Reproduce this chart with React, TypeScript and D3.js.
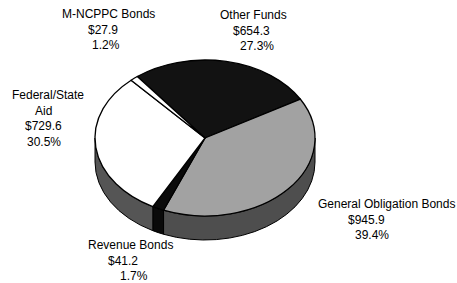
import * as d3 from 'd3';
import { useRef, useEffect } from 'react';

const categories = ['Other Funds', 'General Obligation Bonds', 'Revenue Bonds', 'Federal/State Aid', 'M-NCPPC Bonds'];
const amounts = [654.3, 945.9, 41.2, 729.6, 27.9];
const amountLabels = ['$654.3', '$945.9', '$41.2', '$729.6', '$27.9'];
const percentLabels = ['27.3%', '39.4%', '1.7%', '30.5%', '1.2%'];

const topFill = ['#121212', '#a2a2a2', '#0a0a0a', '#ffffff', '#ffffff'];
const sideFill = ['#1a1a1a', '#4e4e4e', '#0a0a0a', '#555555', '#ffffff'];

// label layout: x per line (name lines, then amount, then percent), first baseline y
const labelLayout = {
  'Other Funds': { lines: ['Other Funds'], x: [220, 233, 240], y: 19 },
  'General Obligation Bonds': { lines: ['General Obligation Bonds'], x: [318, 348, 355], y: 208 },
  'Revenue Bonds': { lines: ['Revenue Bonds'], x: [88, 108, 120], y: 249 },
  'Federal/State Aid': { lines: ['Federal/State', 'Aid'], x: [12, 35, 25, 27], y: 99 },
  'M-NCPPC Bonds': { lines: ['M-NCPPC Bonds'], x: [62, 88, 92], y: 18 },
};

const W = 457, H = 283;
const cx = 205, cy = 138, rx = 110, ry = 78, depth = 24;

export default function App() {
  const svgRef = useRef(null);

  useEffect(() => {
    const svg = d3.select(svgRef.current);
    svg.selectAll('*').remove();

    const data = categories.map((c, i) => ({ name: c, value: amounts[i], i }));
    const startA = -38 * Math.PI / 180;
    const pie = d3.pie().value(d => d.value).sort(null).startAngle(startA).endAngle(startA + 2 * Math.PI);
    const arcs = pie(data);

    const px = a => cx + rx * Math.sin(a);
    const py = a => cy - ry * Math.cos(a);

    const topPath = d => {
      const a0 = d.startAngle, a1 = d.endAngle;
      const large = a1 - a0 > Math.PI ? 1 : 0;
      return `M${cx},${cy}L${px(a0)},${py(a0)}A${rx},${ry} 0 ${large} 1 ${px(a1)},${py(a1)}Z`;
    };

    // the visible front wall lies between PI/2 and 3PI/2 (and the same shifted by 2PI)
    const sidePath = d => {
      const segs = [];
      for (const k of [-2 * Math.PI, 0, 2 * Math.PI]) {
        const s = Math.max(d.startAngle, Math.PI / 2 + k);
        const e = Math.min(d.endAngle, 3 * Math.PI / 2 + k);
        if (e > s) segs.push([s, e]);
      }
      return segs.map(([s, e]) =>
        `M${px(s)},${py(s)}A${rx},${ry} 0 0 1 ${px(e)},${py(e)}L${px(e)},${py(e) + depth}A${rx},${ry} 0 0 0 ${px(s)},${py(s) + depth}Z`
      ).join('');
    };

    const g = svg.append('g');

    g.selectAll('.side')
      .data(arcs)
      .join('path')
      .attr('class', 'side')
      .attr('d', sidePath)
      .attr('fill', d => sideFill[d.data.i])
      .attr('stroke', '#000')
      .attr('stroke-width', 1);

    g.selectAll('.top')
      .data(arcs)
      .join('path')
      .attr('class', 'top')
      .attr('d', topPath)
      .attr('fill', d => topFill[d.data.i])
      .attr('stroke', '#000')
      .attr('stroke-width', 1.3)
      .attr('stroke-linejoin', 'round');

    const lg = svg.append('g')
      .style('font-family', 'Arial, "Liberation Sans", sans-serif')
      .style('font-size', '12px')
      .attr('fill', '#000');

    categories.forEach((c, i) => {
      const L = labelLayout[c];
      const lines = [...L.lines, amountLabels[i], percentLabels[i]];
      lines.forEach((t, j) => {
        lg.append('text')
          .attr('x', L.x[j])
          .attr('y', L.y + j * 15.5)
          .text(t);
      });
    });
  }, []);

  return (
    <svg ref={svgRef} width={W} height={H} style={{ position: 'absolute', left: 0, top: 0, background: '#fff' }}></svg>
  );
}
